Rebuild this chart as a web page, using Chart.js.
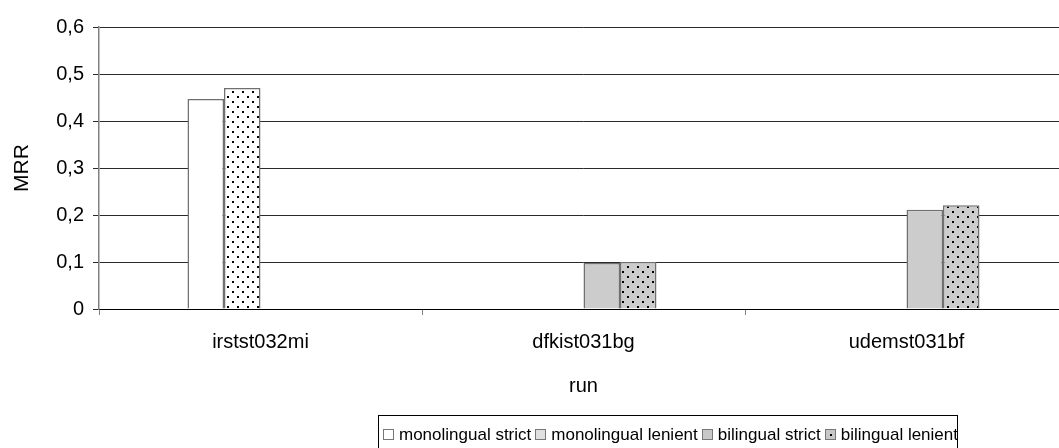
<!DOCTYPE html>
<html>
<head>
<meta charset="utf-8">
<script src="https://cdn.jsdelivr.net/npm/chart.js@4"></script>
<style>
  html, body { margin: 0; padding: 0; background: #fff; overflow: hidden; }
  #wrap { position: relative; width: 1059px; height: 448px; overflow: hidden; }
  #c { position: absolute; left: 0; top: 0; }
  #legend {
    position: absolute; left: 378px; top: 415px; width: 580px; height: 34px;
    border: 1px solid #000; box-sizing: border-box; white-space: nowrap;
    font-family: "Liberation Sans", Arial, sans-serif; font-size: 17px; color: #000;
    line-height: 17px; padding: 10px 0 0 4px;
  }
  #legend .sw {
    display: inline-block; width: 9px; height: 9px; border: 1px solid #777;
    margin-right: 5px; vertical-align: 0px; position: relative;
  }
  #legend .sw i {
    position: absolute; left: 4px; top: 4px; width: 2px; height: 2px; background: #000;
  }
  #legend .it { margin-right: 4px; }
</style>
</head>
<body>
<div id="wrap">
  <canvas id="c" width="1070" height="448"></canvas>
  <div id="legend"></div>
</div>
<script>
var categories = ['irstst032mi', 'dfkist031bg', 'udemst031bf'];
var seriesNames = ['monolingual strict', 'monolingual lenient', 'bilingual strict', 'bilingual lenient'];
var monoStrict = [0.447, null, null];
var monoLenient = [0.470, null, null];
var biStrict = [null, 0.098, 0.211];
var biLenient = [null, 0.100, 0.221];
var yTicks = ['0', '0,1', '0,2', '0,3', '0,4', '0,5', '0,6'];

var font = '"Liberation Sans", Arial, sans-serif';

// dotted fill like the old excel pattern
function dots(bg) {
    var c = document.createElement('canvas');
    c.width = 10; c.height = 10;
    var x = c.getContext('2d');
    x.fillStyle = bg;
    x.fillRect(0, 0, 10, 10);
    x.fillStyle = '#000';
    x.fillRect(2, 1, 2, 2);
    x.fillRect(7, 6, 2, 2);
    return x.createPattern(c, 'repeat');
}

var fills = ['#ffffff', dots('#ffffff'), '#cccccc', dots('#cccccc')];
var series = [monoStrict, monoLenient, biStrict, biLenient];

var datasets = series.map(function (s, i) {
    return {
        label: seriesNames[i],
        data: s,
        backgroundColor: fills[i],
        borderColor: '#707070',
        borderWidth: 1.5,
        categoryPercentage: 0.452,
        barPercentage: 1
    };
});

new Chart(document.getElementById('c'), {
    type: 'bar',
    data: { labels: categories, datasets: datasets },
    options: {
        responsive: false,
        animation: false,
        devicePixelRatio: 1,
        layout: { padding: { top: 27, right: 2, left: 0, bottom: 0 } },
        plugins: { legend: { display: false }, tooltip: { enabled: false } },
        scales: {
            x: {
                grid: { display: true, drawOnChartArea: false, tickLength: 6, color: '#808080', offset: true },
                border: { color: '#000', width: 1 },
                ticks: { color: '#000', font: { family: font, size: 20 }, padding: 15, maxRotation: 0 },
                title: { display: true, text: 'run', color: '#000', font: { family: font, size: 20 }, padding: { top: 0, bottom: 50 } },
                afterFit: function (scale) { scale.height = 139; }
            },
            y: {
                min: 0, max: 0.6,
                grid: { color: '#2a2a2a', tickLength: 6 },
                border: { color: '#808080', width: 1.5 },
                ticks: {
                    stepSize: 0.1, color: '#000', padding: 9,
                    font: { family: font, size: 20 },
                    callback: function (v, i) { return yTicks[i]; }
                },
                title: { display: true, text: 'MRR', color: '#000', font: { family: font, size: 21 }, padding: { top: 10, bottom: 0 } },
                afterFit: function (scale) { scale.width = 99; }
            }
        }
    }
});

// legend box below the plot
var swatchCss = ['#ffffff', '#e0e0e0', '#c8c8c8', '#c8c8c8'];
var lg = document.getElementById('legend');
seriesNames.forEach(function (name, i) {
    var it = document.createElement('span');
    it.className = 'it';
    var sw = document.createElement('span');
    sw.className = 'sw';
    sw.style.background = swatchCss[i];
    if (i === 3) sw.appendChild(document.createElement('i'));
    it.appendChild(sw);
    it.appendChild(document.createTextNode(name));
    lg.appendChild(it);
});
</script>
</body>
</html>
